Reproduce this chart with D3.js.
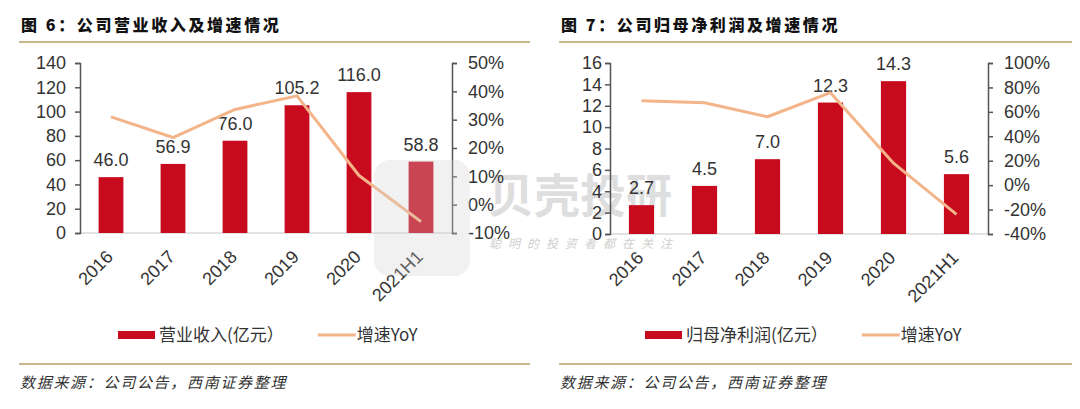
<!DOCTYPE html>
<html>
<head>
<meta charset="utf-8">
<script src="https://cdn.jsdelivr.net/npm/d3@7"></script>
<style>
  html, body { margin: 0; padding: 0; background: #fff; }
  svg { display: block; }
  .num { font-family: "Liberation Sans", Arial, sans-serif; fill: #333; }
  .cjk { font-family: "Noto Sans CJK SC", sans-serif; fill: #333; }
</style>
</head>
<body>
<div id="chart"></div>
<script>
const categories = ['2016', '2017', '2018', '2019', '2020', '2021H1']

// chart 6: revenue (亿元) and growth (%)
const revenue = [46.0, 56.9, 76.0, 105.2, 116.0, 58.8]
const revenueYoY = [31, 23.7, 33.6, 38.4, 10.3, -6]
const revenueTicks = [0, 20, 40, 60, 80, 100, 120, 140]
const revenueYoYTicks = [-10, 0, 10, 20, 30, 40, 50]

// chart 7: net profit attributable (亿元) and growth (%)
const profit = [2.7, 4.5, 7.0, 12.3, 14.3, 5.6]
const profitYoY = [69, 67.5, 56, 75.7, 18, -24]
const profitTicks = [0, 2, 4, 6, 8, 10, 12, 14, 16]
const profitYoYTicks = [-40, -20, 0, 20, 40, 60, 80, 100]

const barColor = '#c80a1e'
const lineColor = '#f4b489'
const ruleColor = '#c8b98c'
const axisColor = '#555'

const svg = d3.select('#chart').append('svg')
  .attr('width', 1080)
  .attr('height', 409)

const under = svg.append('g')
const charts = svg.append('g')
const over = svg.append('g')

function drawChart({
  title,
  barName,
  bars,
  growth,
  barTicks,
  growthTicks,
  left,
  right,
  top,
  bottom,
  leftPad,
  panelLeft,
  panelRight,
  legendX
}) {
  const g = charts.append('g')

  // title and its rule
  g.append('text')
    .attr('class', 'cjk')
    .attr('x', panelLeft + 2)
    .attr('y', 31)
    .attr('font-size', 16)
    .attr('font-weight', 900)
    .attr('letter-spacing', 2.6)
    .style('fill', '#111')
    .text(title)

  g.append('line')
    .attr('x1', panelLeft).attr('x2', panelRight)
    .attr('y1', 42).attr('y2', 42)
    .attr('stroke', ruleColor).attr('stroke-width', 2)

  const x = d3.scaleBand()
    .domain(categories)
    .range([left, right])
    .paddingInner(0.6)
    .paddingOuter(0.3)

  const y = d3.scaleLinear()
    .domain(d3.extent(barTicks))
    .range([bottom, top])

  const y2 = d3.scaleLinear()
    .domain(d3.extent(growthTicks))
    .range([bottom, top])

  const cx = d => x(d) + x.bandwidth() / 2

  // baseline
  g.append('line')
    .attr('x1', left).attr('x2', right)
    .attr('y1', bottom).attr('y2', bottom)
    .attr('stroke', '#d9d9d9').attr('stroke-width', 1.5)

  // bars
  g.selectAll('rect.bar')
    .data(bars)
    .enter()
    .append('rect')
    .attr('class', 'bar')
    .attr('x', (d, i) => x(categories[i]))
    .attr('width', x.bandwidth())
    .attr('y', d => y(d))
    .attr('height', d => y(0) - y(d))
    .attr('fill', barColor)

  g.selectAll('text.barlabel')
    .data(bars)
    .enter()
    .append('text')
    .attr('class', 'num barlabel')
    .attr('x', (d, i) => cx(categories[i]))
    .attr('y', d => y(d) - 11)
    .attr('text-anchor', 'middle')
    .attr('font-size', 18)
    .text(d => d.toFixed(1))

  // growth line
  const line = d3.line()
    .x((d, i) => cx(categories[i]))
    .y(d => y2(d))

  g.append('path')
    .datum(growth)
    .attr('d', line)
    .attr('fill', 'none')
    .attr('stroke', lineColor)
    .attr('stroke-width', 3)
    .attr('stroke-linejoin', 'round')

  // left axis
  const leftAxis = g.append('g')
    .attr('transform', 'translate(' + [left, 0] + ')')
    .call(d3.axisLeft(y).tickValues(barTicks).tickSize(5).tickSizeOuter(5).tickPadding(leftPad))

  // right axis
  const rightAxis = g.append('g')
    .attr('transform', 'translate(' + [right, 0] + ')')
    .call(d3.axisRight(y2).tickValues(growthTicks).tickSize(5).tickSizeOuter(5).tickPadding(11)
      .tickFormat(d => d + '%'))

  g.selectAll('.domain').attr('fill', 'none')
  g.selectAll('.domain, .tick line').attr('stroke', axisColor).attr('stroke-width', 1.5)
  g.selectAll('.tick text')
    .attr('font-size', 18)
    .attr('fill', '#333')
    .style('font-family', '"Liberation Sans", Arial, sans-serif')
  leftAxis.attr('font-family', null)
  rightAxis.attr('font-family', null)

  // rotated category labels
  g.selectAll('text.cat')
    .data(categories)
    .enter()
    .append('text')
    .attr('class', 'num cat')
    .attr('font-size', 18)
    .attr('text-anchor', 'end')
    .attr('transform', d => 'translate(' + [cx(d) + 3, bottom + 25] + ') rotate(-45)')
    .text(d => d)

  // legend
  const ly = 335
  g.append('rect')
    .attr('x', legendX).attr('y', ly - 4)
    .attr('width', 37).attr('height', 8)
    .attr('fill', barColor)

  const t1 = g.append('text')
    .attr('class', 'cjk')
    .attr('x', legendX + 41)
    .attr('y', ly + 6)
    .attr('font-size', 17)
    .text(barName + '(亿元）')

  const lx = legendX + 41 + t1.node().getComputedTextLength() + 34
  g.append('line')
    .attr('x1', lx).attr('x2', lx + 38)
    .attr('y1', ly).attr('y2', ly)
    .attr('stroke', lineColor).attr('stroke-width', 3)

  g.append('text')
    .attr('class', 'cjk')
    .attr('x', lx + 39)
    .attr('y', ly + 6)
    .attr('font-size', 17)
    .text('增速YoY')

  // source rule and note
  g.append('line')
    .attr('x1', panelLeft).attr('x2', panelRight)
    .attr('y1', 364).attr('y2', 364)
    .attr('stroke', ruleColor).attr('stroke-width', 2)

  g.append('text')
    .attr('class', 'cjk')
    .attr('x', panelLeft + 1)
    .attr('y', 388)
    .attr('font-size', 15)
    .attr('font-style', 'italic')
    .attr('letter-spacing', 1.7)
    .text('数据来源：公司公告，西南证券整理')
}

drawChart({
  title: '图 6：公司营业收入及增速情况',
  barName: '营业收入',
  bars: revenue,
  growth: revenueYoY,
  barTicks: revenueTicks,
  growthTicks: revenueYoYTicks,
  left: 80,
  right: 452,
  top: 63,
  bottom: 233,
  leftPad: 9,
  panelLeft: 19,
  panelRight: 530,
  legendX: 118
})

drawChart({
  title: '图 7：公司归母净利润及增速情况',
  barName: '归母净利润',
  bars: profit,
  growth: profitYoY,
  barTicks: profitTicks,
  growthTicks: profitYoYTicks,
  left: 610,
  right: 988,
  top: 63,
  bottom: 234,
  leftPad: 3,
  panelLeft: 559,
  panelRight: 1072,
  legendX: 645
})

// watermark: text beneath the charts, icon on top
under.append('text')
  .attr('x', 488).attr('y', 212)
  .attr('font-family', '"Noto Sans CJK SC", sans-serif')
  .attr('font-size', 46)
  .attr('font-weight', 'bold')
  .attr('fill', '#d4d4d4')
  .attr('opacity', 0.75)
  .text('贝壳投研')
under.append('text')
  .attr('x', 489).attr('y', 248)
  .attr('font-family', '"Noto Sans CJK SC", sans-serif')
  .attr('font-size', 12)
  .attr('font-style', 'italic')
  .attr('letter-spacing', 7)
  .attr('fill', '#cfcfcf')
  .text('聪明的投资者都在关注')
over.append('rect')
  .attr('x', 374).attr('y', 160)
  .attr('width', 96).attr('height', 116)
  .attr('rx', 16)
  .attr('fill', '#cfcfcf')
  .attr('opacity', 0.3)
</script>
</body>
</html>
